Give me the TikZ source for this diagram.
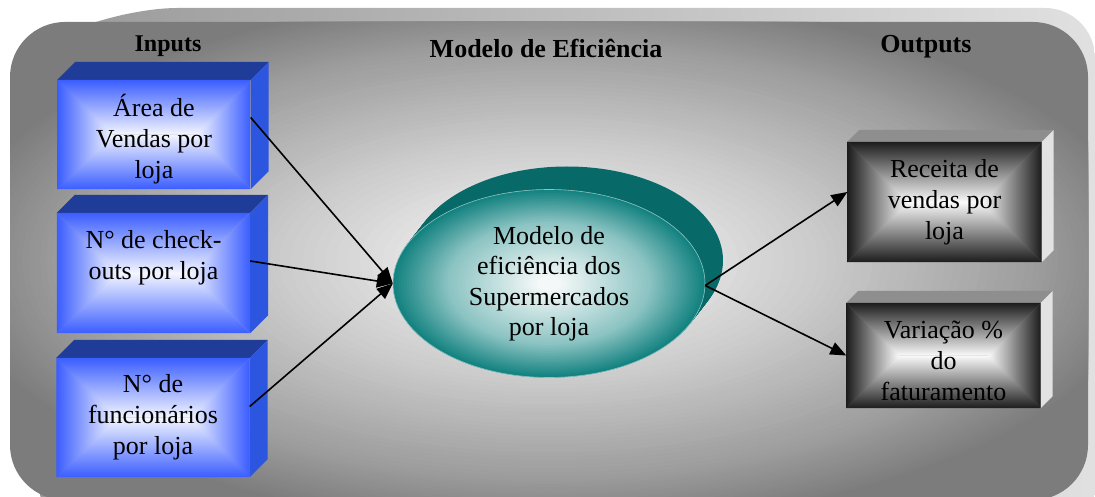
\documentclass[tikz,border=0pt]{standalone}
\usepackage{fontspec}
\setmainfont{Liberation Serif}
\usetikzlibrary{calc,arrows.meta,shapes.geometric}
\pgfdeclarelayer{panel}
\pgfdeclarelayer{faces}
\pgfsetlayers{panel,faces,main}
\definecolor{blueedge}{HTML}{3A5DFF}
\definecolor{bluecenter}{HTML}{F4F6FF}
\definecolor{bluetop}{HTML}{1F3C98}
\definecolor{blueside}{HTML}{2C55E0}
\definecolor{darkedge}{HTML}{1C1C1C}
\definecolor{darkcenter}{HTML}{FAFAFA}
\definecolor{graytop}{HTML}{8E8E8E}
\definecolor{grayside}{HTML}{E2E2E2}
\definecolor{tealedge}{HTML}{138280}
\definecolor{tealmid}{HTML}{8CC4C3}
\definecolor{tealcenter}{HTML}{F4F8F8}
\definecolor{tealback}{HTML}{086A68}
\definecolor{p0}{HTML}{F2F2F2}
\definecolor{p1}{HTML}{EEEEEE}
\definecolor{p2}{HTML}{CCCCCC}
\definecolor{p3}{HTML}{9E9E9E}
\definecolor{p4}{HTML}{7C7C7C}
% concentric elliptical colour band: centre, rx, ry, outer factor, inner factor, outer colour, inner colour, steps
\newcommand\ellband[8]{%
  \foreach \k in {0,...,#8}{%
    \pgfmathsetmacro\ff{#4-(#4-#5)*\k/#8}%
    \pgfmathtruncatemacro\pp{100*\k/#8}%
    \fill[#7!\pp!#6] (#1) ellipse [x radius=#2*\ff*1pt, y radius=#3*\ff*1pt];
  }}
% rectangular (pyramid) gradient on a node's face: name, half height, edge colour, centre colour
\newcommand\rectgrad[4]{%
  \coordinate (#1-cl) at ($(#1.west)+(#2,0)$);
  \coordinate (#1-cr) at ($(#1.east)+(-#2,0)$);
  \shade[top color=#3,bottom color=#4] (#1.north west) -- (#1.north east) -- (#1-cr) -- (#1-cl) -- cycle;
  \shade[top color=#4,bottom color=#3] (#1.south west) -- (#1.south east) -- (#1-cr) -- (#1-cl) -- cycle;
  \shade[left color=#3,right color=#4] (#1.north west) -- (#1.south west) -- (#1-cl) -- cycle;
  \shade[left color=#4,right color=#3] (#1.north east) -- (#1.south east) -- (#1-cr) -- cycle;}
% top and right faces of a box: name, depth, top colour, side colour
\newcommand\boxfaces[4]{%
  \fill[#3] (#1.north west) -- (#1.north east) -- ++(#2,-#2) -- ($(#1.north west)+(#2,-#2)$) -- cycle;
  \fill[#4] (#1.north east) -- (#1.south east) -- ++(#2,-#2) -- ($(#1.north east)+(#2,-#2)$) -- cycle;}
\tikzset{
  boxtext/.style={font=\fontsize{26}{31}\selectfont, align=center, inner sep=0pt},
  inbox/.style={boxtext, rectangle, minimum width=193pt},
  outbox/.style={boxtext, rectangle, minimum width=194pt},
  title/.style={font=\bfseries\fontsize{26}{30}\selectfont, inner sep=0pt},
  arr/.style={line width=1.6pt, -{Triangle[length=16pt,width=13pt]}},
}
\begin{document}
\begin{tikzpicture}[x=1pt,y=-1pt]
\useasboundingbox (0,0) rectangle (1095,497);
\begin{pgfonlayer}{panel}
  \fill[white] (0,0) rectangle (1095,497);
  \shade[left color=black!40, right color=black!12, rounded corners=50]
    (40,45) -- (127,8) -- (1095,8) -- (1095,540) -- (40,540) -- cycle;
  \coordinate (pc) at (549,261);
  \begin{scope}
    \clip[rounded corners=55] (10,22) rectangle (1088,500);
    \fill[p4] (0,0) rectangle (1095,510);
    \ellband{pc}{539}{239}{1.12}{0.9}{p4}{p3}{20}
    \ellband{pc}{539}{239}{0.9}{0.5}{p3}{p2}{24}
    \ellband{pc}{539}{239}{0.5}{0.16}{p2}{p1}{16}
    \ellband{pc}{539}{239}{0.16}{0.0}{p1}{p0}{6}
  \end{scope}
\end{pgfonlayer}

% titles
\node[title, font=\bfseries\fontsize{24}{28}\selectfont] (tin) at (168,46) {Inputs};
\node[title] (tmod) at (546,48) {Modelo de Eficiência};
\node[title] (tout) at (926,47) {Outputs};

% input boxes
\node[inbox, minimum height=109pt, text height=94pt] (in1) at (154,134.5) {Área de\\Vendas por\\loja};
\node[inbox, minimum height=120pt, text depth=36pt] (in2) at (153.5,273) {N° de check-\\outs por loja};
\node[inbox, minimum height=119pt] (in3) at (153,417.5) {N° de\\funcionários\\por loja};

% output boxes
\node[outbox, minimum height=120pt] (out1) at (944.5,202) {Receita de\\vendas por\\loja};
\node[outbox, minimum height=105pt, text height=90pt] (out2) at (943.5,355.5) {Variação \%\\do\\faturamento};

% model ellipse
\node[ellipse, minimum width=312pt, minimum height=188pt, inner sep=0pt,
      font=\fontsize{26}{30.5}\selectfont, align=center]
  (model) at (549,283.5) {Modelo de\\eficiência dos\\Supermercados\\por loja};

\begin{pgfonlayer}{faces}
  \foreach \t in {0,0.05,...,1.001}{
    \fill[tealback] ($(model.center)+(18*\t,-23*\t)$) ellipse [x radius=156pt, y radius=94pt];
  }
  \ellband{model.center}{156}{94}{1.0}{0.65}{tealedge}{tealmid}{20}
  \ellband{model.center}{156}{94}{0.65}{0.08}{tealmid}{tealcenter}{30}
  \draw[tealcenter!55!tealedge, line width=0.6pt] (model.center) ellipse [x radius=156pt, y radius=94pt];
  \boxfaces{in1}{18}{bluetop}{blueside}
  \boxfaces{in2}{18}{bluetop}{blueside}
  \boxfaces{in3}{18}{bluetop}{blueside}
  \rectgrad{in1}{54.5}{blueedge}{bluecenter}
  \rectgrad{in2}{60}{blueedge}{bluecenter}
  \rectgrad{in3}{59.5}{blueedge}{bluecenter}
  \boxfaces{out1}{12}{graytop}{grayside}
  \boxfaces{out2}{12}{graytop}{grayside}
  \rectgrad{out1}{60}{darkedge}{darkcenter}
  \rectgrad{out2}{52.5}{darkedge}{darkcenter}
\end{pgfonlayer}

% connectors
\draw[arr] ($(in1.east)+(0,-17)$) -- (model.west);
\draw[arr] ($(in2.east)+(0,-12)$) -- (model.west);
\draw[arr] ($(in3.east)+(0,-11)$) -- (model.west);
\draw[arr] ($(model.east)+(0,2)$) -- ($(out1.west)+(0,-10)$);
\draw[arr] ($(model.east)+(0,2)$) -- (out2.west);
\end{tikzpicture}
\end{document}
